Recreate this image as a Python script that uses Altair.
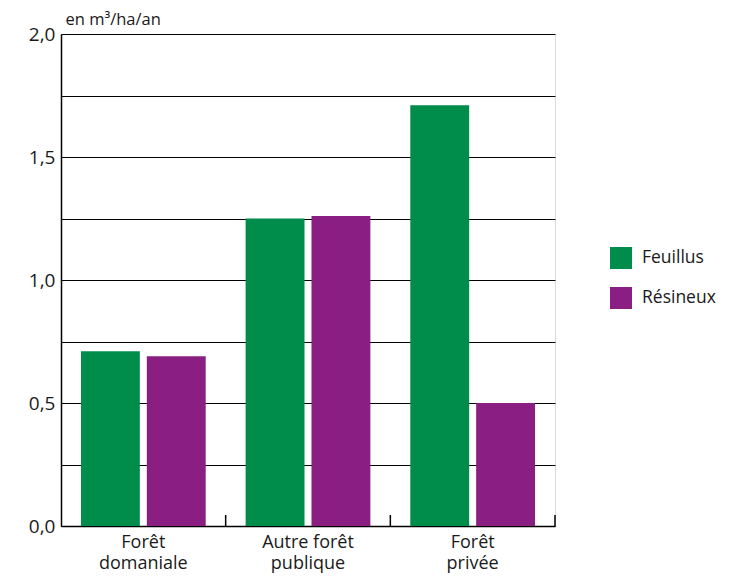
import altair as alt
import pandas as pd

categories = ["Forêt|domaniale", "Autre forêt|publique", "Forêt|privée"]
series = ["Feuillus", "Résineux"]
feuillus = [0.71, 1.25, 1.71]
resineux = [0.69, 1.26, 0.50]
colors = ["#008C4B", "#8A1E82"]

rows = []
for c, f, r in zip(categories, feuillus, resineux):
    rows.append({"cat": c, "type": "Feuillus", "val": f})
    rows.append({"cat": c, "type": "Résineux", "val": r})
df = pd.DataFrame(rows)
ticks_df = pd.DataFrame({"cat": categories})

FONT = "Open Sans"
W, H = 494, 492

x_scale = alt.Scale(domain=categories, paddingInner=0, paddingOuter=0)

bars = alt.Chart(df).mark_bar().encode(
    x=alt.X("cat:N", scale=x_scale, sort=categories,
            axis=alt.Axis(title=None, labelAngle=0, ticks=False, domainColor="#000000",
                          domainWidth=1.5, labelExpr="split(datum.label, '|')",
                          labelFont=FONT, labelFontSize=18, labelColor="#1a1a1a",
                          labelPadding=7, labelLineHeight=21)),
    xOffset=alt.XOffset("type:N", sort=series,
                        scale=alt.Scale(paddingInner=0.106, paddingOuter=0.303)),
    y=alt.Y("val:Q", scale=alt.Scale(domain=[0, 2], nice=False),
            axis=alt.Axis(title="en m³/ha/an", titleAngle=0, titleAlign="left",
                          titleBaseline="alphabetic", titleX=4, titleY=-10,
                          titleFont=FONT, titleFontSize=16.5, titleFontWeight="normal",
                          titleColor="#1a1a1a",
                          values=[0, 0.25, 0.5, 0.75, 1, 1.25, 1.5, 1.75, 2],
                          labelExpr="(datum.value*2) % 1 == 0 ? replace(format(datum.value, '.1f'), '.', ',') : ''",
                          labelFont=FONT, labelFontSize=19, labelColor="#1a1a1a",
                          labelPadding=6, ticks=False, grid=True, gridColor="#000000",
                          gridWidth=1, domainColor="#000000", domainWidth=1.5)),
    color=alt.Color("type:N", sort=series,
                    scale=alt.Scale(domain=series, range=colors),
                    legend=alt.Legend(title=None, orient="none", legendX=549, legendY=213,
                                      symbolType="square", symbolSize=484,
                                      symbolStrokeWidth=0, labelFont=FONT,
                                      labelFontSize=17.5, labelColor="#1a1a1a",
                                      labelOffset=10, rowPadding=18)),
)

tick_rules = alt.Chart(ticks_df).mark_rule(color="#000000", strokeWidth=1.5).encode(
    x=alt.X("cat:N", sort=categories, bandPosition=1),
    y=alt.value(H),
    y2=alt.value(H - 11),
)

chart = alt.layer(bars, tick_rules).properties(
    width=W, height=H,
    autosize=alt.AutoSizeParams(type="none"),
    padding={"left": 53, "top": 26, "right": 166, "bottom": 49},
).configure_view(stroke=None).configure(background="white")

chart.save("out.html", embed_options={"renderer": "svg", "actions": False})
